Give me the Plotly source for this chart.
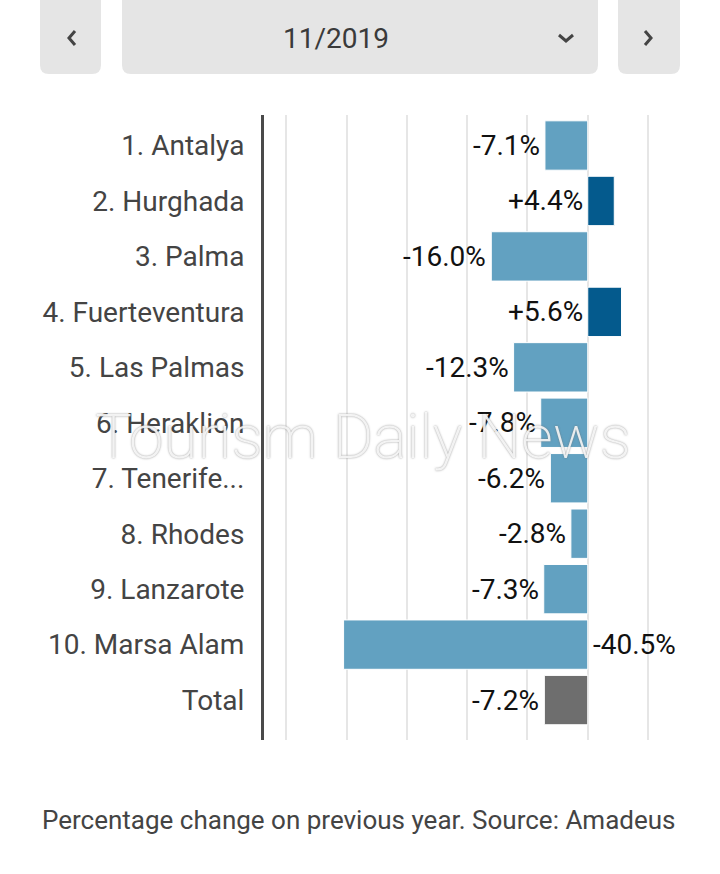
import plotly.graph_objects as go

# Data
destinations = ["1. Antalya", "2. Hurghada", "3. Palma", "4. Fuerteventura", "5. Las Palmas",
                "6. Heraklion", "7. Tenerife...", "8. Rhodes", "9. Lanzarote", "10. Marsa Alam", "Total"]
change_pct = [-7.1, 4.4, -16.0, 5.6, -12.3, -7.8, -6.2, -2.8, -7.3, -40.5, -7.2]
period_label = "11/2019"
footer_note = "Percentage change on previous year. Source: Amadeus"

W, H = 720, 874
L, R, T, B = 264, 680, 115, 740  # plot area in pixels


def px_x(px):
    return (px - L) / (R - L)


def px_y(py):
    return (B - py) / (B - T)


def rounded_rect(x0, y0, x1, y1, r=9):
    rx = r / (R - L)
    ry = r / (B - T)
    a, b, c, d = px_x(x0), px_x(x1), px_y(y0), px_y(y1)  # c top, d bottom
    return (f"M{a+rx},{c} L{b-rx},{c} Q{b},{c} {b},{c-ry} L{b},{d+ry} Q{b},{d} {b-rx},{d} "
            f"L{a+rx},{d} Q{a},{d} {a},{d+ry} L{a},{c-ry} Q{a},{c} {a+rx},{c} Z")


colors = []
for name, v in zip(destinations, change_pct):
    if name == "Total":
        colors.append("#6e6e6e")
    elif v > 0:
        colors.append("#045a8d")
    else:
        colors.append("#62a1c1")

fig = go.Figure()
fig.add_trace(go.Bar(
    x=change_pct, y=destinations, orientation="h",
    marker=dict(color=colors, line=dict(color="white", width=1)),
    hoverinfo="skip",
))

# value labels: left of the bar end (or of zero), longest bar gets its label right of zero
annotations = []
for name, v in zip(destinations, change_pct):
    if v < -30:
        annotations.append(dict(x=0, y=name, xref="x", yref="y", text=f"{v:.1f}%",
                                showarrow=False, xanchor="left", xshift=3,
                                font=dict(size=28, color="#111111", family="Roboto")))
    else:
        txt = f"{v:+.1f}%" if v > 0 else f"{v:.1f}%"
        annotations.append(dict(x=min(v, 0), y=name, xref="x", yref="y", text=txt,
                                showarrow=False, xanchor="right", xshift=-3,
                                font=dict(size=28, color="#111111", family="Roboto")))

# header selector text and footer
annotations.append(dict(x=px_x(336), y=px_y(38), xref="paper", yref="paper", text=period_label,
                        showarrow=False, xanchor="center", yanchor="middle",
                        font=dict(size=28, color="#3a3a3a", family="Roboto")))
annotations.append(dict(x=px_x(40), y=px_y(820), xref="paper", yref="paper", text=footer_note,
                        showarrow=False, xanchor="left", yanchor="middle",
                        font=dict(size=26, color="#444444", family="Roboto")))
# watermark
annotations.append(dict(x=px_x(363), y=px_y(436), xref="paper", yref="paper", text="Tourism Daily News",
                        showarrow=False, xanchor="center", yanchor="middle",
                        font=dict(size=62, color="rgba(255,255,255,0.85)", family="Roboto", weight=200,
                                  shadow="0px 0px 2px rgba(110,110,110,0.9)")))

shapes = []
for x0, x1 in [(40, 101), (122, 598), (618, 680)]:
    shapes.append(dict(type="path", xref="paper", yref="paper", path=rounded_rect(x0, -8, x1, 74),
                       fillcolor="#e5e5e5", line=dict(width=0), layer="below"))
chevrons = [
    [(75, 31), (69, 38), (75, 45)],
    [(645, 31), (651, 38), (645, 45)],
    [(559, 35), (566, 41), (573, 35)],
]
for pts in chevrons:
    p = "M" + " L".join(f"{px_x(a)},{px_y(b)}" for a, b in pts)
    shapes.append(dict(type="path", xref="paper", yref="paper", path=p,
                       line=dict(color="#444444", width=3)))

fig.update_layout(
    width=W, height=H,
    margin=dict(l=L, r=W - R, t=T, b=H - B, pad=0),
    paper_bgcolor="white", plot_bgcolor="white",
    showlegend=False, bargap=0.11,
    annotations=annotations, shapes=shapes,
    xaxis=dict(range=[-53.7, 15.3], dtick=10, tick0=0, showgrid=True, gridcolor="#e6e6e6",
               gridwidth=1.5, zeroline=False, showticklabels=False, fixedrange=True),
    yaxis=dict(range=[10.72, -0.55], showline=True, linecolor="#4a4a4a", linewidth=3,
               showgrid=False, ticks="", ticklabelstandoff=11,
               tickfont=dict(size=28, color="#444444", family="Roboto"), fixedrange=True),
    font=dict(family="Roboto"),
)

fig.write_html("out.html", config={"displayModeBar": False},
               post_script="document.body.style.margin='0';")
